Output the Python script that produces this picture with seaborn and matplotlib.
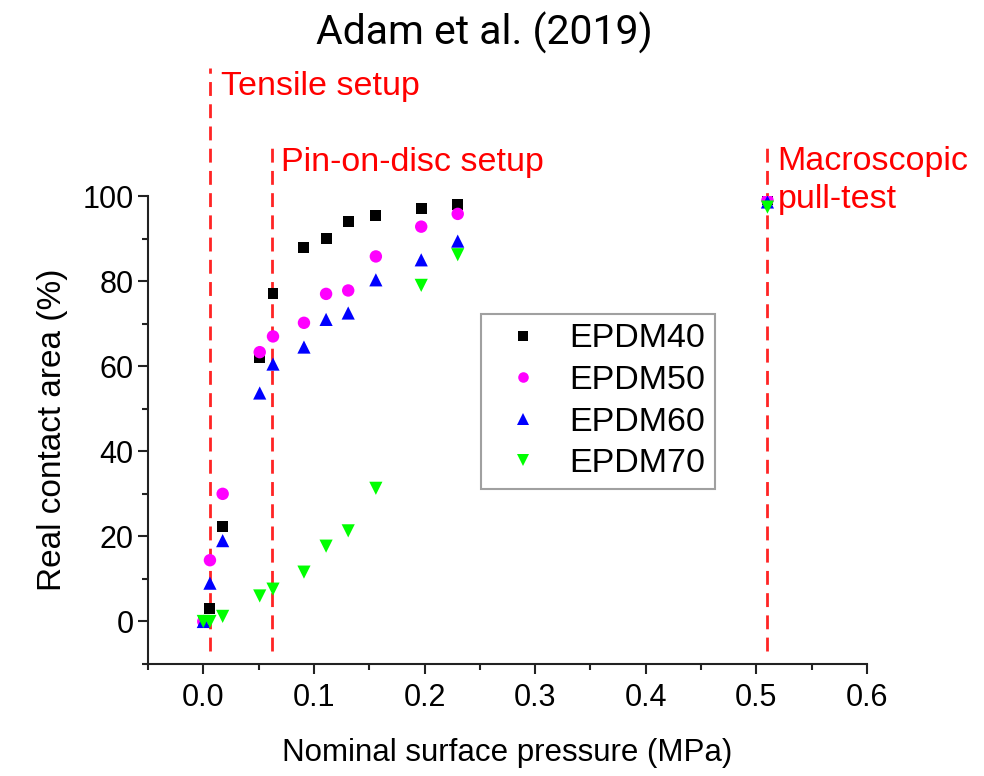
import numpy as np
import pandas as pd
import seaborn as sns
import matplotlib.pyplot as plt
from matplotlib.ticker import MultipleLocator

# nominal pressure (MPa) - same loads for every compound
pressure = [0.0, 0.006, 0.0175, 0.051, 0.063, 0.091, 0.111, 0.131, 0.156, 0.197, 0.230, 0.51]

# real contact area (%)
epdm40 = [0.0, 3.1, 22.4, 62.0, 77.0, 88.0, 90.0, 94.0, 95.4, 97.0, 98.0, 99.2]
epdm50 = [0.0, 14.4, 30.0, 63.3, 67.0, 70.2, 77.0, 77.8, 85.8, 92.8, 95.8, 99.0]
epdm60 = [0.0, 9.0, 19.0, 53.7, 60.5, 64.5, 71.0, 72.5, 80.3, 85.0, 89.4, 98.6]
epdm70 = [0.0, 0.0, 1.2, 6.0, 7.6, 11.6, 17.7, 21.3, 31.3, 79.0, 86.2, 97.4]

series_names = ["EPDM40", "EPDM50", "EPDM60", "EPDM70"]
colors = ["#000000", "#ff00ff", "#0000ff", "#00ff00"]
marks = ["s", "o", "^", "v"]
mark_area = [62, 80, 90, 90]

# test setups marked by dashed lines
setup_x = [0.006, 0.0625, 0.51]
setup_top = [130, 112, 112]
setup_labels = ["Tensile setup", "Pin-on-disc setup", "Macroscopic\npull-test"]

df = pd.concat([
    pd.DataFrame({"pressure": pressure, "area": vals, "material": name})
    for name, vals in zip(series_names, [epdm40, epdm50, epdm60, epdm70])
], ignore_index=True)

sns.set_style("ticks")
plt.rcParams['font.family'] = ['Liberation Sans', 'DejaVu Sans']
plt.rcParams['text.color'] = 'black'
plt.rcParams['axes.labelcolor'] = 'black'

fig = plt.figure(figsize=(9.84, 7.76), dpi=100)
ax = fig.add_axes([0.1504, 0.1443, 0.7307, 0.6031])

sns.scatterplot(data=df, x="pressure", y="area", hue="material", style="material",
                size="material",
                palette=dict(zip(series_names, colors)),
                markers=dict(zip(series_names, marks)),
                sizes=dict(zip(series_names, mark_area)),
                linewidth=0, ax=ax, zorder=3, legend=True)

for x, top in zip(setup_x, setup_top):
    ax.plot([x, x], [-7, top], color="#ff2424", lw=2, ls=(0, (5, 3)),
            clip_on=False, zorder=2)

red = "#ff0000"
ax.text(0.0163, 125.8, setup_labels[0], color=red, fontsize=24.5, va="center", ha="left")
ax.text(0.0705, 107.8, setup_labels[1], color=red, fontsize=24.5, va="center", ha="left")
ax.text(0.519, 103.6, setup_labels[2], color=red, fontsize=24.5, va="center", ha="left",
        linespacing=1.27)

ax.set_xlim(-0.05, 0.6)
ax.set_ylim(-10, 100)
ax.xaxis.set_major_locator(MultipleLocator(0.1))
ax.xaxis.set_minor_locator(MultipleLocator(0.05))
ax.yaxis.set_major_locator(MultipleLocator(20))
ax.yaxis.set_minor_locator(MultipleLocator(10))
ax.set_xticks(np.arange(0, 0.61, 0.1))
ax.set_xticklabels(["0.0", "0.1", "0.2", "0.3", "0.4", "0.5", "0.6"])
ax.tick_params(which="major", direction="out", length=7, width=1.5, labelsize=22,
               colors="#222222", labelcolor="black")
ax.tick_params(axis="x", which="major", pad=7)
ax.tick_params(which="minor", direction="out", length=4, width=1.5, colors="#222222")

for side in ["top", "right"]:
    ax.spines[side].set_visible(False)
for side in ["left", "bottom"]:
    ax.spines[side].set_linewidth(1.5)
    ax.spines[side].set_color("#222222")

ax.set_xlabel("Nominal surface pressure (MPa)", fontsize=22.5, labelpad=18)
ax.set_ylabel("Real contact area (%)", fontsize=24, labelpad=10)

handles, labels = ax.get_legend_handles_labels()
leg = ax.legend(handles, labels, loc="upper left", bbox_to_anchor=(0.4627, 0.748),
                borderaxespad=0, fontsize=24.5, frameon=True, fancybox=False,
                markerscale=0.85, handletextpad=0.42, labelspacing=0.31,
                borderpad=0.28, handlelength=1.9)
leg.get_frame().set_edgecolor("#888888")
leg.get_frame().set_linewidth(1.5)

fig.text(0.492, 0.958, "Adam et al. (2019)", fontsize=29.5, ha="center", va="center",
         family=["Roboto", "DejaVu Sans"])

fig.savefig("out.png", dpi=100)
